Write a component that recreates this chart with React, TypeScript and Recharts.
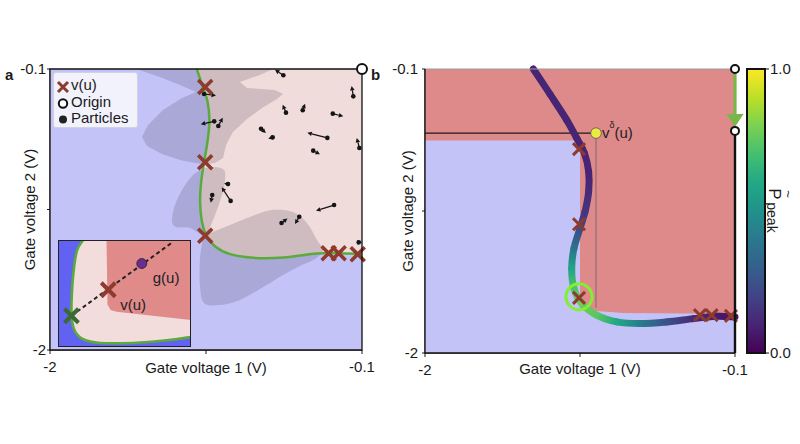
import React from "react";
import { ComposedChart, BarChart, Bar, Scatter, XAxis, YAxis } from "recharts";

type P = { x: number; y: number };

const AXIS_TICKS = [-2, -1.05, -0.1];

// ---- panel a ----
const boundaryA: P[] = [
  { x: -1.106, y: -0.1 }, { x: -1.075, y: -0.206 }, { x: -1.041, y: -0.318 },
  { x: -1.029, y: -0.454 }, { x: -1.041, y: -0.59 }, { x: -1.061, y: -0.725 },
  { x: -1.079, y: -0.86 }, { x: -1.086, y: -0.996 }, { x: -1.075, y: -1.131 },
  { x: -1.049, y: -1.222 }, { x: -0.994, y: -1.3 }, { x: -0.903, y: -1.352 },
  { x: -0.761, y: -1.377 }, { x: -0.577, y: -1.375 }, { x: -0.374, y: -1.348 },
  { x: -0.25, y: -1.345 }, { x: -0.1, y: -1.35 },
];
const cornerA: P[] = [{ x: -0.1, y: -0.1 }];

const blobTop: P[] = [
  { x: -1.472, y: -0.1 }, { x: -0.642, y: -0.1 }, { x: -0.721, y: -0.14 }, { x: -0.843, y: -0.188 },
  { x: -0.8, y: -0.228 }, { x: -0.63, y: -0.242 }, { x: -0.581, y: -0.269 }, { x: -0.618, y: -0.303 },
  { x: -0.709, y: -0.364 }, { x: -0.8, y: -0.438 }, { x: -0.886, y: -0.526 }, { x: -0.928, y: -0.614 },
  { x: -0.946, y: -0.702 }, { x: -0.995, y: -0.736 }, { x: -1.056, y: -0.742 }, { x: -1.117, y: -0.736 },
  { x: -1.208, y: -0.715 }, { x: -1.318, y: -0.675 }, { x: -1.409, y: -0.621 }, { x: -1.44, y: -0.56 },
  { x: -1.403, y: -0.479 }, { x: -1.312, y: -0.377 }, { x: -1.196, y: -0.296 }, { x: -1.111, y: -0.255 },
  { x: -1.208, y: -0.208 }, { x: -1.33, y: -0.154 }, { x: -1.421, y: -0.12 },
];
const blobMid: P[] = [
  { x: -0.94, y: -0.783 }, { x: -0.934, y: -0.85 }, { x: -0.953, y: -0.952 }, { x: -0.983, y: -1.053 },
  { x: -1.02, y: -1.155 }, { x: -1.056, y: -1.229 }, { x: -1.147, y: -1.175 }, { x: -1.233, y: -1.168 },
  { x: -1.257, y: -1.121 }, { x: -1.239, y: -1.02 }, { x: -1.196, y: -0.918 }, { x: -1.135, y: -0.823 },
  { x: -1.068, y: -0.776 }, { x: -1.001, y: -0.763 },
];
const blobLow: P[] = [
  { x: -1.056, y: -1.229 }, { x: -0.904, y: -1.155 }, { x: -0.752, y: -1.087 }, { x: -0.648, y: -1.053 },
  { x: -0.52, y: -1.067 }, { x: -0.435, y: -1.141 }, { x: -0.374, y: -1.256 }, { x: -0.337, y: -1.324 },
  { x: -0.386, y: -1.385 }, { x: -0.478, y: -1.432 }, { x: -0.581, y: -1.493 }, { x: -0.691, y: -1.567 },
  { x: -0.843, y: -1.662 }, { x: -0.965, y: -1.696 }, { x: -1.062, y: -1.682 }, { x: -1.087, y: -1.56 },
  { x: -1.087, y: -1.391 }, { x: -1.074, y: -1.283 },
];
const crossesA: P[] = [
  { x: -1.055, y: -0.222 }, { x: -1.055, y: -0.73 }, { x: -1.055, y: -1.228 },
  { x: -0.303, y: -1.346 }, { x: -0.242, y: -1.346 }, { x: -0.126, y: -1.352 },
];
// particle position (x, y) and where its velocity arrow points (hx, hy)
const particles = [
  { x: -0.579, y: -0.142, hx: -0.63, hy: -0.105 },
  { x: -1.062, y: -0.269, hx: -0.989, hy: -0.279 },
  { x: -0.153, y: -0.285, hx: -0.163, hy: -0.215 },
  { x: -0.563, y: -0.395, hx: -0.583, hy: -0.341 },
  { x: -0.461, y: -0.379, hx: -0.447, hy: -0.335 },
  { x: -0.278, y: -0.402, hx: -0.214, hy: -0.42 },
  { x: -1.0, y: -0.454, hx: -1.082, hy: -0.474 },
  { x: -0.975, y: -0.485, hx: -0.948, hy: -0.429 },
  { x: -0.715, y: -0.504, hx: -0.685, hy: -0.533 },
  { x: -0.644, y: -0.562, hx: -0.671, hy: -0.571 },
  { x: -0.311, y: -0.566, hx: -0.433, hy: -0.531 },
  { x: -0.116, y: -0.634, hx: -0.132, hy: -0.566 },
  { x: -0.397, y: -0.652, hx: -0.356, hy: -0.677 },
  { x: -0.9, y: -0.992, hx: -0.954, hy: -0.9 },
  { x: -0.916, y: -0.878, hx: -0.94, hy: -0.875 },
  { x: -1.012, y: -0.952, hx: -1.021, hy: -1.004 },
  { x: -0.27, y: -1.02, hx: -0.38, hy: -1.058 },
  { x: -0.59, y: -1.141, hx: -0.554, hy: -1.111 },
  { x: -0.482, y: -1.099, hx: -0.508, hy: -1.148 },
  { x: -0.12, y: -1.272, hx: -0.1, hy: -1.272 },
];
const originA: P[] = [{ x: -0.1, y: -0.1 }];
const frameA: P[] = [{ x: -2, y: -2 }, { x: -0.1, y: -2 }, { x: -0.1, y: -0.1 }, { x: -2, y: -0.1 }];

// ---- inset (unit square) ----
const insetBox: P[] = [{ x: 0, y: 0 }, { x: 1, y: 0 }, { x: 1, y: 1 }, { x: 0, y: 1 }];
const insetBoundary: P[] = [
  { x: 0.189, y: 1.0 }, { x: 0.144, y: 0.906 }, { x: 0.118, y: 0.717 }, { x: 0.103, y: 0.465 },
  { x: 0.103, y: 0.277 }, { x: 0.126, y: 0.151 }, { x: 0.189, y: 0.072 }, { x: 0.315, y: 0.038 },
  { x: 0.567, y: 0.038 }, { x: 0.819, y: 0.063 }, { x: 1.0, y: 0.094 },
];
const insetCorner: P[] = [{ x: 1, y: 1 }];
const insetRed: P[] = [
  { x: 0.365, y: 1.0 }, { x: 1, y: 1 }, { x: 1, y: 0.252 }, { x: 0.441, y: 0.33 },
  { x: 0.395, y: 0.345 }, { x: 0.372, y: 0.4 },
];
const insetRay: P[] = [{ x: 0.101, y: 0.292 }, { x: 0.856, y: 0.975 }];
const insetStart: P[] = [{ x: 0.101, y: 0.292 }];
const insetV: P[] = [{ x: 0.378, y: 0.535 }];
const insetG: P[] = [{ x: 0.63, y: 0.78 }];

// ---- panel b ----
const redRegionB: P[] = [
  { x: -2, y: -0.1 }, { x: -0.1, y: -0.1 }, { x: -0.1, y: -1.743 }, { x: -0.376, y: -1.736 },
  { x: -0.784, y: -1.732 }, { x: -1.009, y: -1.714 }, { x: -1.05, y: -1.703 }, { x: -1.05, y: -0.578 },
  { x: -2, y: -0.578 },
];
const peakCurve = [
  { x: -1.336, y: -0.1, p: 0.1 }, { x: -1.234, y: -0.268, p: 0.1 }, { x: -1.132, y: -0.44, p: 0.1 },
  { x: -1.07, y: -0.563, p: 0.1 }, { x: -1.023, y: -0.663, p: 0.1 }, { x: -0.997, y: -0.786, p: 0.1 },
  { x: -0.997, y: -0.92, p: 0.12 }, { x: -1.019, y: -1.054, p: 0.15 }, { x: -1.05, y: -1.166, p: 0.22 },
  { x: -1.087, y: -1.3, p: 0.38 }, { x: -1.101, y: -1.434, p: 0.58 }, { x: -1.087, y: -1.569, p: 0.72 },
  { x: -1.04, y: -1.669, p: 0.78 }, { x: -0.948, y: -1.747, p: 0.74 }, { x: -0.825, y: -1.792, p: 0.6 },
  { x: -0.682, y: -1.803, p: 0.42 }, { x: -0.519, y: -1.792, p: 0.25 }, { x: -0.355, y: -1.77, p: 0.12 },
  { x: -0.212, y: -1.754, p: 0.07 }, { x: -0.1, y: -1.759, p: 0.05 },
];
const crossesB: P[] = [
  { x: -1.056, y: -0.636 }, { x: -1.056, y: -1.139 }, { x: -1.056, y: -1.631 },
  { x: -0.315, y: -1.747 }, { x: -0.243, y: -1.747 }, { x: -0.125, y: -1.752 },
];
const vDelta: P[] = [{ x: -0.952, y: -0.529 }];
const guideH: P[] = [{ x: -2, y: -0.529 }, { x: -0.952, y: -0.529 }];
const guideV: P[] = [{ x: -0.952, y: -0.529 }, { x: -0.952, y: -1.698 }];
const highlightB: P[] = [{ x: -1.056, y: -1.624 }];
const originsB: P[] = [{ x: -0.1, y: -0.1 }, { x: -0.1, y: -0.514 }];
const rightEdgeB: P[] = [{ x: -0.1, y: -0.514 }, { x: -0.1, y: -2 }];
const topEdgeB: P[] = [{ x: -2, y: -0.1 }, { x: -0.1, y: -0.1 }];
const leftBottomB: P[] = [{ x: -2, y: -0.1 }, { x: -2, y: -2 }, { x: -0.1, y: -2 }];
const colorbarTicks = [0, 1];

const VIRIDIS = ["#440154", "#482475", "#414487", "#355f8d", "#2a788e", "#21918c", "#22a884", "#44bf70", "#7ad151", "#bddf26", "#fde725"];
function viridis(t: number) {
  const s = Math.max(0, Math.min(1, t)) * 10;
  const i = Math.min(9, Math.floor(s));
  const f = s - i;
  const h = (c: string, k: number) => parseInt(c.slice(1 + 2 * k, 3 + 2 * k), 16);
  const c = [0, 1, 2].map((k) => Math.round(h(VIRIDIS[i], k) * (1 - f) + h(VIRIDIS[i + 1], k) * f));
  return `rgb(${c.join(",")})`;
}

function linePath(pts: P[], closed: boolean) {
  return pts.map((p, i) => `${i ? "L" : "M"}${p.x},${p.y}`).join("") + (closed ? "Z" : "");
}
function seg(pts: P[], i: number, closed: boolean) {
  const n = pts.length;
  const at = (k: number) => (closed ? pts[(k + n) % n] : pts[Math.max(0, Math.min(n - 1, k))]);
  const p0 = at(i - 1), p1 = at(i), p2 = at(i + 1), p3 = at(i + 2);
  return `C${p1.x + (p2.x - p0.x) / 6},${p1.y + (p2.y - p0.y) / 6} ${p2.x - (p3.x - p1.x) / 6},${p2.y - (p3.y - p1.y) / 6} ${p2.x},${p2.y}`;
}
function smoothPath(pts: P[], closed: boolean) {
  if (pts.length < 2) return "";
  let d = `M${pts[0].x},${pts[0].y}`;
  const n = closed ? pts.length : pts.length - 1;
  for (let i = 0; i < n; i++) d += seg(pts, i, closed);
  return closed ? d + "Z" : d;
}

const noShape = () => <g />;

type Mode = "linear" | "smooth" | "open" | "openLinear" | "edge";
function region(key: string, data: P[], style: any, mode: Mode, corners = 0) {
  const build = (pts: P[]) => {
    if (mode === "linear") return linePath(pts, true);
    if (mode === "smooth") return smoothPath(pts, true);
    if (mode === "open") return smoothPath(pts, false);
    if (mode === "openLinear") return linePath(pts, false);
    const edge = pts.slice(0, pts.length - corners);
    return smoothPath(edge, false) + pts.slice(pts.length - corners).map((p) => `L${p.x},${p.y}`).join("") + "Z";
  };
  return (
    <Scatter
      key={key}
      data={data}
      isAnimationActive={false}
      legendType="none"
      shape={noShape}
      lineType="joint"
      line={(lp: any) => <path d={build(lp.points)} fill="none" {...style} />}
    />
  );
}

function marks(key: string, data: P[], shape: (p: any) => React.ReactElement) {
  return <Scatter key={key} data={data} isAnimationActive={false} legendType="none" shape={shape} />;
}

const cross = (size: number, color: string, width: number) => (p: any) => {
  const h = size / 2;
  const { cx, cy } = p;
  return (
    <path d={`M${cx - h},${cy - h}L${cx + h},${cy + h}M${cx - h},${cy + h}L${cx + h},${cy - h}`} stroke={color} strokeWidth={width} fill="none" />
  );
};
const openCircle = (r: number, w: number) => (p: any) => (
  <circle cx={p.cx} cy={p.cy} r={r} fill="#fff" stroke="#111" strokeWidth={w} />
);

const drawParticles = (lp: any) => {
  const pts: P[] = lp.points;
  const out: React.ReactElement[] = [];
  for (let i = 0; i + 1 < pts.length; i += 2) {
    const a = pts[i], b = pts[i + 1];
    const dx = b.x - a.x, dy = b.y - a.y;
    const len = Math.hypot(dx, dy) || 1;
    const ux = dx / len, uy = dy / len;
    const hl = 4.5, hw = 2.3;
    const bx = b.x - ux * hl, by = b.y - uy * hl;
    out.push(
      <g key={i}>
        <line x1={a.x} y1={a.y} x2={bx} y2={by} stroke="#151515" strokeWidth={1.2} />
        <path d={`M${b.x},${b.y}L${bx - uy * hw},${by + ux * hw}L${bx + uy * hw},${by - ux * hw}Z`} fill="#151515" />
        <circle cx={a.x} cy={a.y} r={2.3} fill="#151515" />
      </g>
    );
  }
  return <g>{out}</g>;
};

const drawPeak = (lp: any) => {
  const pts: P[] = lp.points;
  return (
    <g>
      {pts.slice(0, -1).map((p1, i) => {
        const p2 = pts[i + 1];
        const id = `peakgrad${i}`;
        return (
          <g key={i}>
            <defs>
              <linearGradient id={id} gradientUnits="userSpaceOnUse" x1={p1.x} y1={p1.y} x2={p2.x} y2={p2.y}>
                <stop offset="0" stopColor={viridis(peakCurve[i].p)} />
                <stop offset="1" stopColor={viridis(peakCurve[i + 1].p)} />
              </linearGradient>
            </defs>
            <path d={`M${p1.x},${p1.y}` + seg(pts, i, false)} stroke={`url(#${id})`} strokeWidth={7} fill="none" strokeLinecap="round" />
          </g>
        );
      })}
    </g>
  );
};

const drawArrow = (lp: any) => {
  const [a, b] = lp.points as P[];
  const tip = b.y - 4;
  const base = tip - 13;
  return (
    <g>
      <line x1={a.x} y1={a.y} x2={a.x} y2={base + 1} stroke="#79b64a" strokeWidth={3.2} />
      <path d={`M${b.x},${tip}L${b.x - 8.5},${base}L${b.x + 8.5},${base}Z`} fill="#79b64a" />
    </g>
  );
};

const FONT = '"Liberation Sans", Arial, sans-serif';
const TXT = "#1a1a1a";
const tickFmt = (v: number) => (v === -2 || v === -0.1 ? String(v) : "");

function axes(yWidth: number, xHeight: number, yTickMargin: number) {
  return [
    <XAxis
      key="x"
      type="number"
      dataKey="x"
      domain={[-2, -0.1]}
      ticks={AXIS_TICKS}
      interval={0}
      tickFormatter={tickFmt}
      height={xHeight}
      tickSize={4}
      tickMargin={7}
      stroke={TXT}
      tick={{ fontSize: 15, fill: TXT }}
      label={{ value: "Gate voltage 1 (V)", position: "center", fontSize: 15, fill: TXT }}
    />,
    <YAxis
      key="y"
      type="number"
      dataKey="y"
      domain={[-2, -0.1]}
      ticks={AXIS_TICKS}
      interval={0}
      tickFormatter={tickFmt}
      width={yWidth}
      tickSize={3}
      tickMargin={yTickMargin}
      stroke={TXT}
      tick={{ fontSize: 15, fill: TXT }}
      label={{ value: "Gate voltage 2 (V)", angle: -90, position: "center", fontSize: 15, fill: TXT, dx: yWidth < 30 ? -5 : 0 }}
    />,
  ];
}

const LAVENDER = "#c3c3f8";

export default function App() {
  const particleData = particles.flatMap((p) => [{ x: p.x, y: p.y }, { x: p.hx, y: p.hy }]);
  return (
    <div style={{ position: "absolute", left: 0, top: 0, width: 800, height: 444, background: "#fff", fontFamily: FONT, overflow: "hidden" }}>
      {/* panel a */}
      <div style={{ position: "absolute", left: 0, top: 0 }}>
        <ComposedChart width={400} height={444} margin={{ top: 69, right: 38, bottom: 58, left: 10 }}>
          {axes(40, 36, 1)}
          {region("bg", frameA, { fill: LAVENDER }, "linear")}
          {region("pink", [...boundaryA, ...cornerA], { fill: "#f1dcdc" }, "edge", 1)}
          {region("blobTop", blobTop, { fill: "rgba(58,55,72,0.19)" }, "linear")}
          {region("blobMid", blobMid, { fill: "rgba(58,55,72,0.19)" }, "smooth")}
          {region("blobLow", blobLow, { fill: "rgba(58,55,72,0.19)" }, "smooth")}
          {region("boundary", boundaryA, { stroke: "#5aaa3c", strokeWidth: 2.5 }, "open")}
          <Scatter data={particleData} isAnimationActive={false} legendType="none" shape={noShape} lineType="joint" line={drawParticles} />
          {marks("crossA", crossesA, cross(14, "#8e3a2c", 3.6))}
          {region("frameA", frameA, { stroke: "#111", strokeWidth: 1.3 }, "linear")}
          {marks("originA", originA, openCircle(5, 2))}
        </ComposedChart>
      </div>

      {/* inset of panel a */}
      <div style={{ position: "absolute", left: 58, top: 240 }}>
        <ComposedChart width={133} height={107} margin={{ top: 0, right: 0, bottom: 0, left: 0 }}>
          <XAxis type="number" dataKey="x" domain={[0, 1]} hide />
          <YAxis type="number" dataKey="y" domain={[0, 1]} hide />
          {region("ibg", insetBox, { fill: "#6262f2" }, "linear")}
          {region("ipink", [...insetBoundary, ...insetCorner], { fill: "#f2dcdc" }, "edge", 1)}
          {region("ired", insetRed, { fill: "#e08a8a" }, "linear")}
          {region("iboundary", insetBoundary, { stroke: "#5aaa3c", strokeWidth: 2.6 }, "open")}
          {region("iray", insetRay, { stroke: "#222", strokeWidth: 2, strokeDasharray: "4 3" }, "openLinear")}
          {marks("istart", insetStart, cross(14, "#3c6a34", 4))}
          {marks("iv", insetV, (p: any) => (
            <g>
              {cross(14, "#8e3a2c", 4)(p)}
              <text x={p.cx + 12} y={p.cy + 20} fontSize={15} fill="#222">v(u)</text>
            </g>
          ))}
          {marks("ig", insetG, (p: any) => (
            <g>
              <circle cx={p.cx} cy={p.cy} r={5} fill="#6a2d8c" stroke="#2a1a3a" strokeWidth={0.8} />
              <text x={p.cx + 11} y={p.cy + 19} fontSize={15} fill="#222">g(u)</text>
            </g>
          ))}
          {region("ibox", insetBox, { stroke: "#222", strokeWidth: 2 }, "linear")}
        </ComposedChart>
      </div>

      {/* legend of panel a */}
      <div style={{ position: "absolute", left: 53, top: 72, width: 83, height: 54, background: "rgba(248,248,253,0.88)", border: "1px solid #d2d2dc", borderRadius: 3, fontSize: 15, color: TXT }}>
        <svg width={16} height={50} style={{ position: "absolute", left: 1, top: 3 }}>
          <path d="M3,6L13,16M3,16L13,6" stroke="#8e3a2c" strokeWidth={3} />
          <circle cx={8} cy={27.5} r={4.2} fill="#fff" stroke="#111" strokeWidth={2} />
          <circle cx={8} cy={43.5} r={4} fill="#222" />
        </svg>
        <div style={{ position: "absolute", left: 17, top: 4, lineHeight: "16.5px", whiteSpace: "nowrap" }}>
          <div>v(u)</div>
          <div>Origin</div>
          <div>Particles</div>
        </div>
      </div>

      {/* panel b */}
      <div style={{ position: "absolute", left: 380, top: 0 }}>
        <ComposedChart width={420} height={444} margin={{ top: 69, right: 65, bottom: 60, left: 20 }}>
          {axes(25, 31, 4)}
          {region("bbg", frameA, { fill: LAVENDER }, "linear")}
          {region("bred", redRegionB, { fill: "#de8a8a" }, "linear")}
          {region("gh", guideH, { stroke: "#1a1a1a", strokeWidth: 1.1 }, "openLinear")}
          {region("gv", guideV, { stroke: "#8a6c6c", strokeWidth: 1.1 }, "openLinear")}
          <Scatter data={peakCurve} isAnimationActive={false} legendType="none" shape={noShape} lineType="joint" line={drawPeak} />
          {marks("crossB", crossesB, cross(12, "#8e3a2c", 3))}
          {marks("hl", highlightB, (p: any) => <circle cx={p.cx} cy={p.cy} r={13} fill="none" stroke="#80f030" strokeWidth={3} />)}
          {marks("vd", vDelta, (p: any) => (
            <g>
              <circle cx={p.cx} cy={p.cy} r={5.3} fill="#ece844" stroke="#555" strokeWidth={0.8} />
              <text x={p.cx + 6} y={p.cy + 5} fontSize={15} fill="#222">
                v<tspan dy={-10} fontSize={9}>δ</tspan>
                <tspan dy={10}>(u)</tspan>
              </text>
            </g>
          ))}
          {region("top", topEdgeB, { stroke: "#999", strokeWidth: 1.2 }, "openLinear")}
          {region("lb", leftBottomB, { stroke: "#111", strokeWidth: 1.3 }, "openLinear")}
          {region("right", rightEdgeB, { stroke: "#111", strokeWidth: 2.4 }, "openLinear")}
          <Scatter data={originsB} isAnimationActive={false} legendType="none" shape={noShape} lineType="joint" line={drawArrow} />
          {marks("originsB", originsB, openCircle(4, 2))}
        </ComposedChart>
      </div>

      {/* colorbar */}
      <div style={{ position: "absolute", left: 740, top: 0 }}>
        <BarChart width={60} height={444} data={[{ name: "peak", v: 1 }]} margin={{ top: 69, right: 0, bottom: 91, left: 7 }} barCategoryGap={0}>
          <defs>
            <linearGradient id="viridisV" x1="0" y1="1" x2="0" y2="0">
              {VIRIDIS.map((c, i) => (
                <stop key={i} offset={i / 10} stopColor={c} />
              ))}
            </linearGradient>
          </defs>
          <XAxis dataKey="name" hide />
          <YAxis
            orientation="right"
            type="number"
            domain={[0, 1]}
            ticks={colorbarTicks}
            interval={0}
            tickFormatter={(v: number) => v.toFixed(1)}
            width={35}
            tickSize={4}
            tickMargin={1}
            axisLine={false}
            tickLine={{ stroke: "#111" }}
            tick={{ fontSize: 15, fill: TXT }}
            label={{
              position: "insideLeft",
              content: (lp: any) => {
                const vb = lp.viewBox || { x: 25, y: 69, width: 35, height: 284 };
                const x0 = vb.x + 4;
                const y0 = vb.y + vb.height * 0.42;
                return (
                  <g transform={`translate(${x0},${y0}) rotate(90)`} fill={TXT}>
                    <text x={0} y={0} fontSize={17}>P</text>
                    <text x={2} y={-15} fontSize={13}>~</text>
                    <text x={14} y={2} fontSize={14}>peak</text>
                  </g>
                );
              },
            }}
          />
          <Bar dataKey="v" fill="url(#viridisV)" stroke="#111" strokeWidth={2} isAnimationActive={false} />
        </BarChart>
      </div>

      <div style={{ position: "absolute", left: 5, top: 66, fontWeight: "bold", fontSize: 15, color: TXT }}>a</div>
      <div style={{ position: "absolute", left: 371, top: 66, fontWeight: "bold", fontSize: 15, color: TXT }}>b</div>
    </div>
  );
}
